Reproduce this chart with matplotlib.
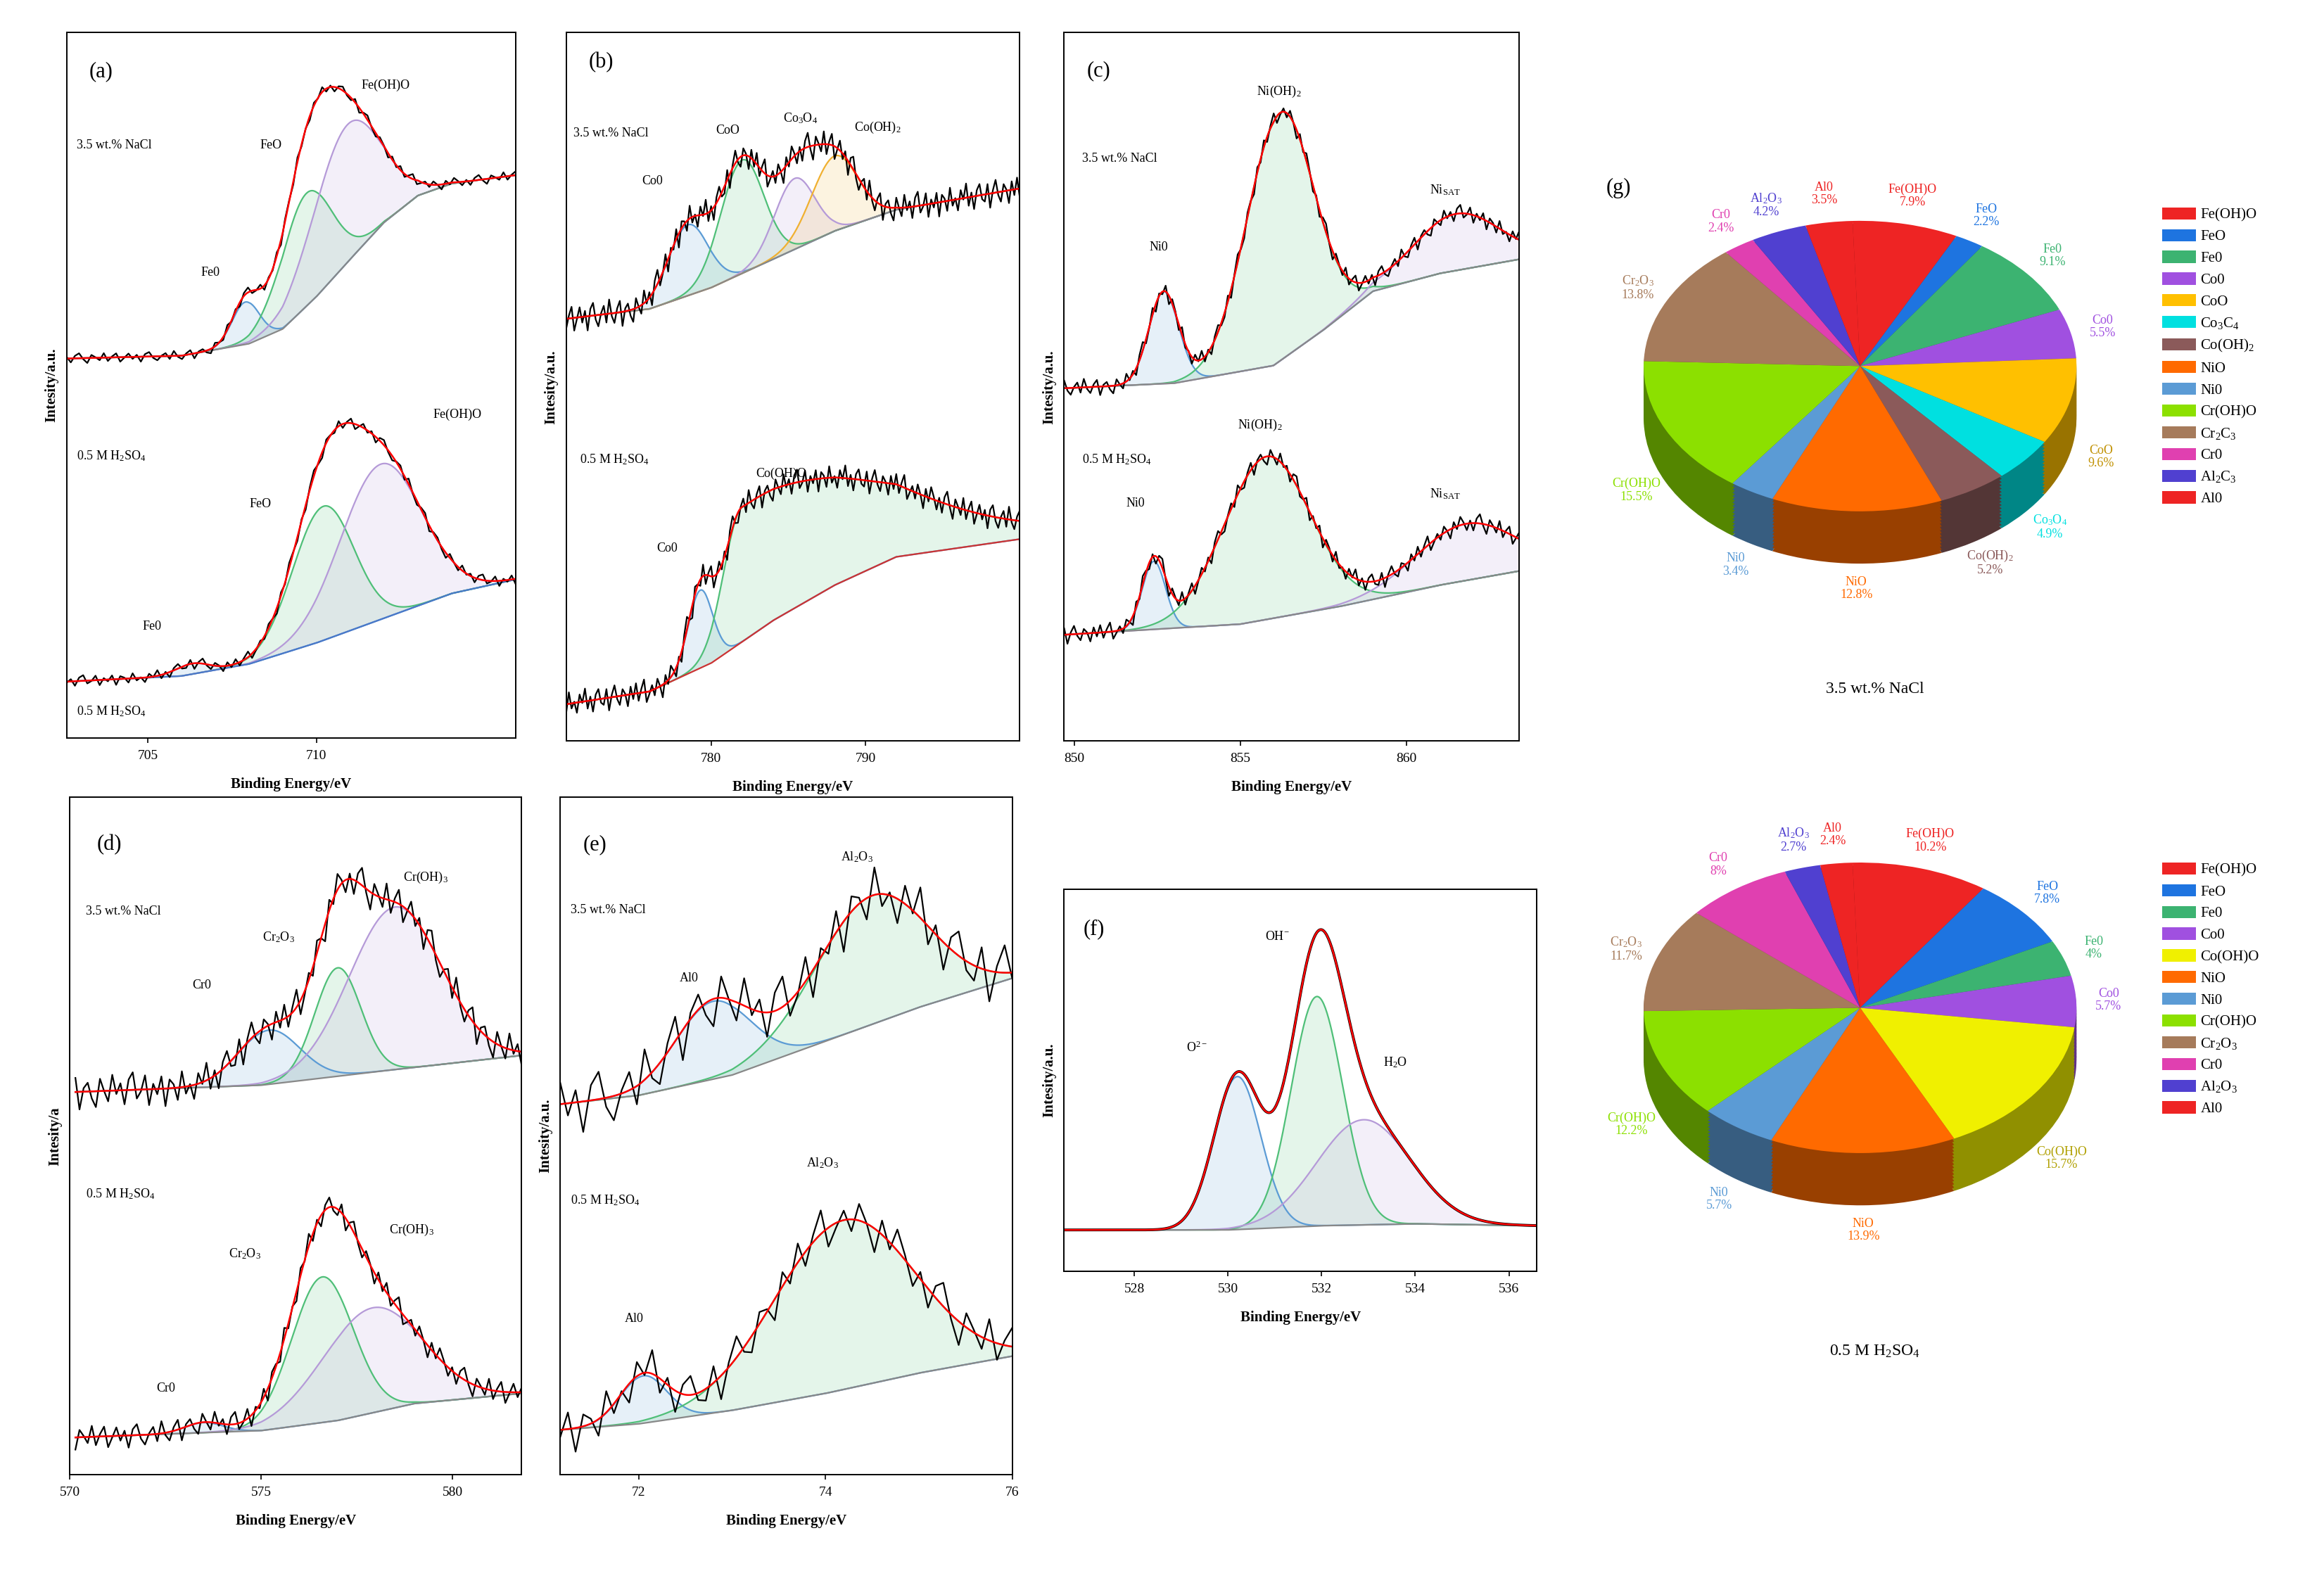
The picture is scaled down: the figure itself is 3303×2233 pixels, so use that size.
import numpy as np
import matplotlib
matplotlib.use("Agg")
import matplotlib.pyplot as plt
from matplotlib.patches import Patch
from matplotlib.colors import to_rgb

plt.rcParams['font.family'] = 'Liberation Serif'
plt.rcParams['mathtext.fontset'] = 'custom'
plt.rcParams['mathtext.rm'] = 'Liberation Serif'
plt.rcParams['mathtext.it'] = 'Liberation Serif'

W, H = 1568.0, 1060.0

# hand-read ripple of the measured spectra (shape only, scaled per panel)
JITTER = [0.3,-0.8,0.5,1.0,-0.2,-1.0,0.6,0.1,-0.5,0.9,-0.7,0.2,0.8,-0.9,-0.1,0.7,-0.4,0.4,-1.0,0.5,
          0.9,-0.3,-0.8,0.1,0.6,-0.6,1.0,-0.2,-0.7,0.3,0.8,-1.0,0.2,0.5,-0.4,-0.9,0.7,0.0,-0.6,0.9,
          -0.2,0.4,-0.8,0.6,1.0,-0.5,-0.1,0.8,-0.9,0.3,-0.3,0.7,-1.0,0.5,0.2,-0.7,0.9,-0.4,0.1,-0.8,
          0.6,-0.1,1.0,-0.6,0.3,-0.9,0.4,0.8,-0.3,-0.5,0.7,-1.0,0.2,0.9,-0.2,-0.7,0.5,0.1,-0.9,0.6,
          -0.4,0.8,-0.6,0.3,1.0,-0.8,-0.2,0.4,-0.5,0.7,0.0,-1.0,0.6,-0.3,0.9,0.2,-0.7]

BLUE, GREEN, PURPLE, ORANGE = '#5b9bd5', '#4fbf78', '#b59ad8', '#f0b030'

# ---- panel (a) Fe 2p ----
A_XLIM = (702.6, 715.9)
A_UP_BG_X = [702.6, 706, 708, 709, 710, 711, 712, 713, 714, 715.9]
A_UP_BG_Y = [53.8, 54.2, 55.9, 58.0, 62.6, 67.9, 73.1, 76.9, 78.6, 79.8]
A_UP_PEAKS = [(707.9, 6.0, 0.4, 0.4, BLUE), (709.7, 16.0, 0.75, 0.75, GREEN), (710.9, 19.5, 1.0, 1.0, PURPLE)]
A_LO_BG_X = [702.6, 706, 708, 710, 712, 714, 715.9]
A_LO_BG_Y = [8.0, 8.8, 10.5, 13.5, 17.0, 20.5, 22.5]
A_LO_PEAKS = [(706.3, 1.5, 0.5, 0.5, BLUE), (710.2, 19.0, 0.9, 0.9, GREEN), (711.9, 22.0, 1.2, 1.2, PURPLE)]

# ---- panel (b) Co 2p ----
B_XLIM = (770.6, 800.0)
B_UP_BG_X = [770.6, 776, 780, 784, 788, 792, 800]
B_UP_BG_Y = [59.6, 61.0, 64.0, 68.0, 72.0, 75.0, 78.0]
B_UP_PEAKS = [(778.5, 10.0, 1.3, 1.3, BLUE), (782.0, 16.0, 1.4, 1.4, GREEN),
              (785.4, 10.0, 1.3, 1.3, PURPLE), (788.0, 10.6, 1.5, 1.5, ORANGE)]
B_LO_BG_X = [770.6, 776, 780, 784, 788, 792, 800]
B_LO_BG_Y = [5.2, 7.0, 11.0, 17.0, 22.0, 26.0, 28.5]
B_LO_PEAKS = [(779.3, 11.0, 0.8, 0.8, BLUE), (782.0, 19.0, 1.2, 9.0, GREEN)]

# ---- panel (c) Ni 2p ----
C_XLIM = (849.7, 863.4)
C_UP_BG_X = [849.7, 853, 856, 857.5, 859, 861, 863.4]
C_UP_BG_Y = [49.8, 50.5, 53.0, 58.0, 63.5, 66.0, 68.0]
C_UP_PEAKS = [(852.7, 13.0, 0.45, 0.45, BLUE), (856.2, 35.0, 1.0, 1.0, GREEN), (861.5, 8.0, 1.3, 1.3, PURPLE)]
C_LO_BG_X = [849.7, 855, 858, 861, 863.4]
C_LO_BG_Y = [15.0, 16.5, 19.0, 22.0, 24.0]
C_LO_PEAKS = [(852.4, 9.6, 0.35, 0.35, BLUE), (855.8, 23.0, 1.3, 1.3, GREEN), (861.8, 8.0, 1.5, 1.5, PURPLE)]

# ---- panel (d) Cr 2p ----
D_XLIM = (570.15, 581.8)
D_UP_BG_X = [570.15, 575, 578, 581.8]
D_UP_BG_Y = [56.5, 57.5, 59.5, 61.9]
D_UP_PEAKS = [(575.2, 8.0, 0.8, 0.8, BLUE), (577.0, 16.0, 0.6, 0.6, GREEN), (578.5, 24.0, 1.2, 1.2, PURPLE)]
D_LO_BG_X = [570.15, 575, 577, 579, 581.8]
D_LO_BG_Y = [5.5, 6.5, 8.0, 10.5, 12.0]
D_LO_PEAKS = [(573.5, 1.5, 0.5, 0.5, BLUE), (576.6, 21.5, 0.8, 0.8, GREEN), (577.9, 15.5, 1.3, 1.3, PURPLE)]

# ---- panel (e) Al 2p ----
E_XLIM = (71.16, 76.0)
E_UP_BG_X = [71.16, 72, 73, 74, 75, 76]
E_UP_BG_Y = [54.7, 56.0, 59.0, 64.0, 69.0, 73.3]
E_UP_PEAKS = [(72.8, 11.5, 0.4, 0.4, BLUE), (74.5, 19.0, 0.6, 0.6, GREEN)]
E_LO_BG_X = [71.16, 72, 73, 74, 75, 76]
E_LO_BG_Y = [6.6, 7.5, 9.5, 12.0, 15.0, 17.5]
E_LO_PEAKS = [(72.05, 7.0, 0.25, 0.25, BLUE), (74.2, 25.0, 0.75, 0.75, GREEN)]

# ---- panel (f) O 1s ----
F_XLIM = (526.5, 536.6)
F_BG_X = [526.5, 530, 532, 534, 536.6]
F_BG_Y = [10.9, 10.9, 12.0, 12.5, 12.0]
F_PEAKS = [(530.2, 40.0, 0.5, 0.5, BLUE), (531.9, 60.0, 0.55, 0.55, GREEN), (532.9, 27.5, 1.0, 1.0, PURPLE)]

# ---- pies ----
NACL_NAMES = ['Fe(OH)O', 'FeO', 'Fe0', 'Co0', 'CoO', 'Co$_3$O$_4$', 'Co(OH)$_2$', 'NiO', 'Ni0',
              'Cr(OH)O', 'Cr$_2$O$_3$', 'Cr0', 'Al$_2$O$_3$', 'Al0']
NACL_VALUES = [7.9, 2.2, 9.1, 5.5, 9.6, 4.9, 5.2, 12.8, 3.4, 15.5, 13.8, 2.4, 4.2, 3.5]
NACL_COLORS = ['#ee2424', '#1e74e0', '#3cb371', '#a050e0', '#ffc000', '#00e0e0', '#8b5a5a', '#ff6a00',
               '#5b9bd5', '#8ce000', '#a67b5b', '#e040b0', '#5040d0', '#ee2424']
NACL_LEGEND = ['Fe(OH)O', 'FeO', 'Fe0', 'Co0', 'CoO', 'Co$_3$C$_4$', 'Co(OH)$_2$', 'NiO', 'Ni0',
               'Cr(OH)O', 'Cr$_2$C$_3$', 'Cr0', 'Al$_2$C$_3$', 'Al0']

H2SO4_NAMES = ['Fe(OH)O', 'FeO', 'Fe0', 'Co0', 'Co(OH)O', 'NiO', 'Ni0', 'Cr(OH)O', 'Cr$_2$O$_3$',
               'Cr0', 'Al$_2$O$_3$', 'Al0']
H2SO4_VALUES = [10.2, 7.8, 4, 5.7, 15.7, 13.9, 5.7, 12.2, 11.7, 8, 2.7, 2.4]
H2SO4_COLORS = ['#ee2424', '#1e74e0', '#3cb371', '#a050e0', '#f0f000', '#ff6a00', '#5b9bd5', '#8ce000',
                '#a67b5b', '#e040b0', '#5040d0', '#ee2424']


def peak(x, c, h, sl, sr):
    s = np.where(x < c, sl, sr)
    return h * np.exp(-(x - c) ** 2 / (2 * s ** 2))


def spectrum(ax, xlim, bgx, bgy, peaks, amp, n, shift, bgcolor='#888888'):
    x = np.linspace(xlim[0], xlim[1], 600)
    bg = np.interp(x, bgx, bgy)
    fit = bg.copy()
    for c, h, sl, sr, col in peaks:
        p = peak(x, c, h, sl, sr)
        ax.fill_between(x, bg, bg + p, color=col, alpha=0.15, lw=0)
        ax.plot(x, bg + p, color=col, lw=0.8)
        fit += p
    ax.plot(x, bg, color=bgcolor, lw=0.8)
    if amp > 0:
        xr = np.linspace(xlim[0], xlim[1], n)
        j = np.array([JITTER[(i + shift) % len(JITTER)] for i in range(n)])
        ax.plot(xr, np.interp(xr, x, fit) + amp * j, color='black', lw=0.8)
    else:
        ax.plot(x, fit, color='black', lw=1.4)
    ax.plot(x, fit, color='red', lw=0.9)


def panel(px, py, pw, ph, xlim, ticks, ylabel):
    ax = fig.add_axes([px / W, 1 - (py + ph) / H, pw / W, ph / H])
    ax.set_xlim(*xlim)
    ax.set_ylim(0, 100)
    ax.set_yticks([])
    ax.set_xticks(ticks)
    ax.tick_params(axis='x', labelsize=7, length=2.5, width=0.6)
    for s in ax.spines.values():
        s.set_linewidth(0.7)
    ax.set_xlabel('Binding Energy/eV', fontsize=7.5, fontweight='bold', labelpad=8)
    ax.set_ylabel(ylabel, fontsize=7.5, fontweight='bold')
    return ax


def label(ax, items):
    for x, y, t, ha, fs in items:
        ax.text(x, y, t, transform=ax.transAxes, ha=ha, va='center', fontsize=fs)


fig = plt.figure(figsize=(16.515, 11.165), dpi=200)

NA = '3.5 wt.% NaCl'
HS = '0.5 M H$_2$SO$_4$'
L = 'left'
CTR = 'center'

ax = panel(45, 22, 303, 476, A_XLIM, [705, 710], 'Intesity/a.u.')
spectrum(ax, A_XLIM, A_UP_BG_X, A_UP_BG_Y, A_UP_PEAKS, 0.7, 110, 0)
spectrum(ax, A_XLIM, A_LO_BG_X, A_LO_BG_Y, A_LO_PEAKS, 0.8, 110, 40, bgcolor='#4a78c8')
label(ax, [(0.05, 0.945, '(a)', L, 11), (0.023, 0.84, NA, L, 6.5), (0.455, 0.84, 'FeO', CTR, 6.5),
           (0.71, 0.925, 'Fe(OH)O', CTR, 6.5), (0.32, 0.66, 'Fe0', CTR, 6.5), (0.023, 0.40, HS, L, 6.5),
           (0.87, 0.458, 'Fe(OH)O', CTR, 6.5), (0.432, 0.332, 'FeO', CTR, 6.5), (0.19, 0.158, 'Fe0', CTR, 6.5),
           (0.023, 0.038, HS, L, 6.5)])

ax = panel(382, 22, 306, 478, B_XLIM, [780, 790], 'Intesity/a.u.')
spectrum(ax, B_XLIM, B_UP_BG_X, B_UP_BG_Y, B_UP_PEAKS, 2.0, 170, 10)
spectrum(ax, B_XLIM, B_LO_BG_X, B_LO_BG_Y, B_LO_PEAKS, 1.8, 170, 55, bgcolor='#cc3333')
label(ax, [(0.05, 0.958, '(b)', L, 11), (0.016, 0.858, NA, L, 6.5), (0.19, 0.79, 'Co0', CTR, 6.5),
           (0.356, 0.862, 'CoO', CTR, 6.5), (0.516, 0.879, 'Co$_3$O$_4$', CTR, 6.5),
           (0.686, 0.866, 'Co(OH)$_2$', CTR, 6.5), (0.03, 0.397, HS, L, 6.5),
           (0.474, 0.377, 'Co(OH)O', CTR, 6.5), (0.222, 0.272, 'Co0', CTR, 6.5)])

ax = panel(718, 22, 307, 478, C_XLIM, [850, 855, 860], 'Intesity/a.u.')
spectrum(ax, C_XLIM, C_UP_BG_X, C_UP_BG_Y, C_UP_PEAKS, 1.2, 140, 20)
spectrum(ax, C_XLIM, C_LO_BG_X, C_LO_BG_Y, C_LO_PEAKS, 1.3, 140, 70)
label(ax, [(0.05, 0.946, '(c)', L, 11), (0.04, 0.822, NA, L, 6.5), (0.472, 0.916, 'Ni(OH)$_2$', CTR, 6.5),
           (0.208, 0.697, 'Ni0', CTR, 6.5), (0.837, 0.778, 'Ni$_{SAT}$', CTR, 6.5), (0.04, 0.397, HS, L, 6.5),
           (0.43, 0.446, 'Ni(OH)$_2$', CTR, 6.5), (0.156, 0.335, 'Ni0', CTR, 6.5),
           (0.837, 0.349, 'Ni$_{SAT}$', CTR, 6.5)])

ax = panel(47, 538, 305, 457, D_XLIM, [570, 575, 580], 'Intesity/a')
spectrum(ax, D_XLIM, D_UP_BG_X, D_UP_BG_Y, D_UP_PEAKS, 2.6, 110, 30)
spectrum(ax, D_XLIM, D_LO_BG_X, D_LO_BG_Y, D_LO_PEAKS, 1.8, 110, 5)
label(ax, [(0.06, 0.93, '(d)', L, 11), (0.036, 0.832, NA, L, 6.5), (0.292, 0.722, 'Cr0', CTR, 6.5),
           (0.462, 0.794, 'Cr$_2$O$_3$', CTR, 6.5), (0.787, 0.882, 'Cr(OH)$_3$', CTR, 6.5),
           (0.036, 0.414, HS, L, 6.5), (0.387, 0.326, 'Cr$_2$O$_3$', CTR, 6.5),
           (0.757, 0.361, 'Cr(OH)$_3$', CTR, 6.5), (0.213, 0.127, 'Cr0', CTR, 6.5)])

ax = panel(378, 538, 305, 457, E_XLIM, [72, 74, 76], 'Intesity/a.u.')
spectrum(ax, E_XLIM, E_UP_BG_X, E_UP_BG_Y, E_UP_PEAKS, 4.5, 60, 15)
spectrum(ax, E_XLIM, E_LO_BG_X, E_LO_BG_Y, E_LO_PEAKS, 3.5, 60, 50)
label(ax, [(0.05, 0.93, '(e)', L, 11), (0.023, 0.834, NA, L, 6.5), (0.285, 0.733, 'Al0', CTR, 6.5),
           (0.656, 0.912, 'Al$_2$O$_3$', CTR, 6.5), (0.023, 0.405, HS, L, 6.5),
           (0.58, 0.46, 'Al$_2$O$_3$', CTR, 6.5), (0.164, 0.23, 'Al0', CTR, 6.5)])

ax = panel(718, 600, 319, 258, F_XLIM, [528, 530, 532, 534, 536], 'Intesity/a.u.')
spectrum(ax, F_XLIM, F_BG_X, F_BG_Y, F_PEAKS, 0, 0, 0)
label(ax, [(0.04, 0.895, '(f)', L, 11), (0.45, 0.876, 'OH$^{-}$', CTR, 6.5),
           (0.28, 0.585, 'O$^{2-}$', CTR, 6.5), (0.70, 0.547, 'H$_2$O', CTR, 6.5)])


def pie3d(cy, top, bottom, names, values, colors, legend_names, leg_top, title, title_y, letter):
    axp = fig.add_axes([1072.5 / W, 1 - bottom / H, 365 / W, (bottom - top) / H])
    axp.axis('off')
    depth = 0.36
    for d in np.linspace(depth, 0.02, 16):
        dark = [tuple(0.6 * v for v in to_rgb(c)) for c in colors]
        axp.pie(values, colors=dark, startangle=92, counterclock=False, center=(0, -d),
                wedgeprops=dict(linewidth=0))
    wedges, _ = axp.pie(values, colors=colors, startangle=92, counterclock=False,
                        wedgeprops=dict(linewidth=0))
    axp.set_aspect('auto')
    axp.set_xlim(-1.25, 1.25)
    axp.set_ylim(-(bottom - cy) / 98.0, (cy - top) / 98.0)
    for w, n, v, c in zip(wedges, names, values, colors):
        th = np.deg2rad((w.theta1 + w.theta2) / 2)
        x, y = 1.15 * np.cos(th), 1.2 * np.sin(th)
        if y < 0:
            y -= 0.33
        tc = '#b0a000' if c == '#f0f000' else ('#c09000' if c == '#ffc000' else c)
        axp.text(x, y, '%s\n%s%%' % (n, ('%g' % v)), color=tc, fontsize=6.5,
                 ha='center', va='center', linespacing=1.1)
    fig.text(1265 / W, 1 - title_y / H, title, ha='center', va='center', fontsize=8.5)
    if letter:
        fig.text(1092 / W, 1 - 127 / H, letter, ha='center', va='center', fontsize=11)
    handles = [Patch(facecolor=c, edgecolor='none') for c in colors]
    fig.legend(handles, legend_names, loc='upper left', bbox_to_anchor=(1455 / W, 1 - leg_top / H),
               frameon=False, fontsize=7.5, handlelength=2.3, handleheight=0.9,
               labelspacing=0.48, handletextpad=0.3, borderaxespad=0)


pie3d(247, 90, 450, NACL_NAMES, NACL_VALUES, NACL_COLORS, NACL_LEGEND, 136, NA, 465, '(g)')
pie3d(680, 520, 880, H2SO4_NAMES, H2SO4_VALUES, H2SO4_COLORS, H2SO4_NAMES, 578, HS, 912, None)

fig.savefig('out.png', dpi=200, facecolor='white')
